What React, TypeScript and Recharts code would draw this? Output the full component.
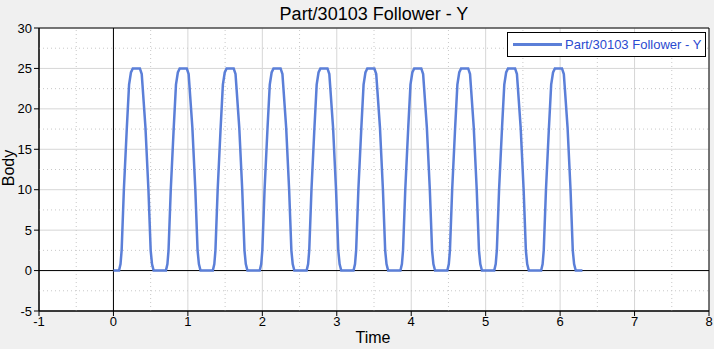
import React from 'react';
import {
  LineChart,
  Line,
  XAxis,
  YAxis,
  CartesianGrid,
  ReferenceLine,
  ReferenceArea,
} from 'recharts';

// Part/30103 Follower - Y, sampled from the plot
const time = [
  0,
  0.075, 0.095, 0.11, 0.14, 0.18, 0.21, 0.235, 0.26, 0.355, 0.38, 0.39, 0.43, 0.47, 0.5, 0.518, 0.54,
  0.705, 0.725, 0.74, 0.77, 0.81, 0.84, 0.865, 0.89, 0.985, 1.01, 1.02, 1.06, 1.1, 1.13, 1.148, 1.17,
  1.335, 1.355, 1.37, 1.4, 1.44, 1.47, 1.495, 1.52, 1.615, 1.64, 1.65, 1.69, 1.73, 1.76, 1.778, 1.8,
  1.965, 1.985, 2.0, 2.03, 2.07, 2.1, 2.125, 2.15, 2.245, 2.27, 2.28, 2.32, 2.36, 2.39, 2.408, 2.43,
  2.595, 2.615, 2.63, 2.66, 2.7, 2.73, 2.755, 2.78, 2.875, 2.9, 2.91, 2.95, 2.99, 3.02, 3.038, 3.06,
  3.225, 3.245, 3.26, 3.29, 3.33, 3.36, 3.385, 3.41, 3.505, 3.53, 3.54, 3.58, 3.62, 3.65, 3.668, 3.69,
  3.855, 3.875, 3.89, 3.92, 3.96, 3.99, 4.015, 4.04, 4.135, 4.16, 4.17, 4.21, 4.25, 4.28, 4.298, 4.32,
  4.485, 4.505, 4.52, 4.55, 4.59, 4.62, 4.645, 4.67, 4.765, 4.79, 4.8, 4.84, 4.88, 4.91, 4.928, 4.95,
  5.115, 5.135, 5.15, 5.18, 5.22, 5.25, 5.275, 5.3, 5.395, 5.42, 5.43, 5.47, 5.51, 5.54, 5.558, 5.58,
  5.745, 5.765, 5.78, 5.81, 5.85, 5.88, 5.905, 5.93, 6.025, 6.05, 6.06, 6.1, 6.14, 6.17, 6.188, 6.21,
  6.3,
];

const body = [
  0,
  0, 0.8, 2.5, 10, 17.7, 23, 24.5, 25, 25, 24.3, 23, 17.7, 10, 2.5, 0.8, 0,
  0, 0.8, 2.5, 10, 17.7, 23, 24.5, 25, 25, 24.3, 23, 17.7, 10, 2.5, 0.8, 0,
  0, 0.8, 2.5, 10, 17.7, 23, 24.5, 25, 25, 24.3, 23, 17.7, 10, 2.5, 0.8, 0,
  0, 0.8, 2.5, 10, 17.7, 23, 24.5, 25, 25, 24.3, 23, 17.7, 10, 2.5, 0.8, 0,
  0, 0.8, 2.5, 10, 17.7, 23, 24.5, 25, 25, 24.3, 23, 17.7, 10, 2.5, 0.8, 0,
  0, 0.8, 2.5, 10, 17.7, 23, 24.5, 25, 25, 24.3, 23, 17.7, 10, 2.5, 0.8, 0,
  0, 0.8, 2.5, 10, 17.7, 23, 24.5, 25, 25, 24.3, 23, 17.7, 10, 2.5, 0.8, 0,
  0, 0.8, 2.5, 10, 17.7, 23, 24.5, 25, 25, 24.3, 23, 17.7, 10, 2.5, 0.8, 0,
  0, 0.8, 2.5, 10, 17.7, 23, 24.5, 25, 25, 24.3, 23, 17.7, 10, 2.5, 0.8, 0,
  0, 0.8, 2.5, 10, 17.7, 23, 24.5, 25, 25, 24.3, 23, 17.7, 10, 2.5, 0.8, 0,
  0,
];

const xTicks = [-1, 0, 1, 2, 3, 4, 5, 6, 7, 8];
const yTicks = [-5, 0, 5, 10, 15, 20, 25, 30];
const xMinor = [-0.5, 0.5, 1.5, 2.5, 3.5, 4.5, 5.5, 6.5, 7.5];
const yMinor = [-2.5, 2.5, 7.5, 12.5, 17.5, 22.5, 27.5];

const seriesName = 'Part/30103 Follower - Y';

const data = time.map((t, i) => ({ t, y: body[i] }));

const font = "'Liberation Sans', Arial, sans-serif";
const lineColor = '#5b7fd8';

export default function App() {
  return (
    <div
      style={{
        position: 'absolute',
        left: 0,
        top: 0,
        width: 714,
        height: 349,
        background: '#f0f0f0',
        fontFamily: font,
      }}
    >
      <div
        style={{
          position: 'absolute',
          left: 39,
          top: 4,
          width: 670,
          textAlign: 'center',
          fontSize: 18,
          lineHeight: '20px',
          color: '#000',
        }}
      >
        {seriesName}
      </div>
      <LineChart
        width={714}
        height={349}
        data={data}
        margin={{ top: 28, right: 5, bottom: 0, left: 0 }}
      >
        <CartesianGrid stroke="#d6d6d6" fill="#ffffff" />
        {xMinor.map((v) => (
          <ReferenceLine key={'x' + v} x={v} stroke="#c8c8c8" strokeDasharray="1 3" />
        ))}
        {yMinor.map((v) => (
          <ReferenceLine key={'y' + v} y={v} stroke="#c8c8c8" strokeDasharray="1 3" />
        ))}
        <ReferenceLine x={0} stroke="#000" />
        <ReferenceLine y={0} stroke="#000" />
        <ReferenceArea
          x1={-1}
          x2={8}
          y1={-5}
          y2={30}
          fill="none"
          fillOpacity={0}
          stroke="#000"
          strokeWidth={1}
        />
        <XAxis
          type="number"
          dataKey="t"
          domain={[-1, 8]}
          ticks={xTicks}
          interval={0}
          height={38}
          tickSize={5}
          tickMargin={1}
          axisLine={{ stroke: '#000' }}
          tickLine={{ stroke: '#000' }}
          tick={{ fill: '#000', fontSize: 13, fontFamily: font }}
        />
        <YAxis
          type="number"
          domain={[-5, 30]}
          ticks={yTicks}
          interval={0}
          width={39}
          tickSize={5}
          tickMargin={2}
          axisLine={{ stroke: '#000' }}
          tickLine={{ stroke: '#000' }}
          tick={{ fill: '#000', fontSize: 13, fontFamily: font }}
        />
        <Line
          type="linear"
          dataKey="y"
          name={seriesName}
          stroke={lineColor}
          strokeWidth={2.5}
          dot={false}
          isAnimationActive={false}
        />
      </LineChart>
      <div
        style={{
          position: 'absolute',
          left: 352,
          top: 329,
          width: 42,
          textAlign: 'center',
          fontSize: 16,
          lineHeight: '18px',
        }}
      >
        Time
      </div>
      <div
        style={{
          position: 'absolute',
          left: -11,
          top: 159,
          width: 40,
          textAlign: 'center',
          fontSize: 16,
          lineHeight: '18px',
          transform: 'rotate(-90deg)',
        }}
      >
        Body
      </div>
      <div
        style={{
          position: 'absolute',
          left: 507,
          top: 32,
          width: 197,
          height: 23,
          background: '#fff',
          border: '1px solid #000',
          display: 'flex',
          alignItems: 'center',
        }}
      >
        <div style={{ width: 49, height: 3, background: lineColor, marginLeft: 5, marginRight: 3 }} />
        <span style={{ color: '#2a4bd0', fontSize: 13, whiteSpace: 'nowrap' }}>{seriesName}</span>
      </div>
    </div>
  );
}
